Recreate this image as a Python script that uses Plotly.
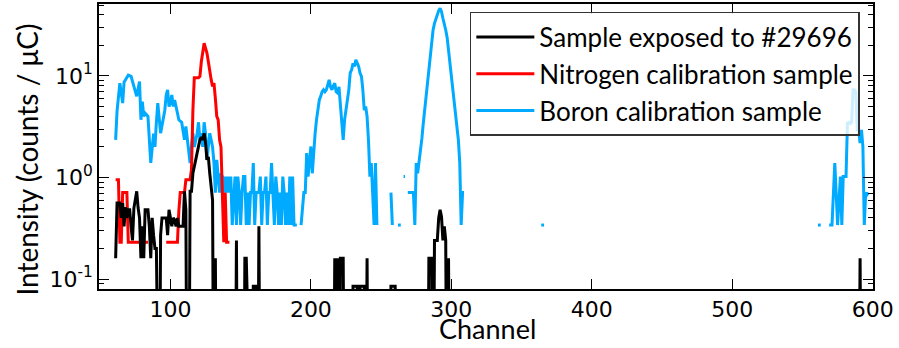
import plotly.graph_objects as go

# ---------------- data (channel, intensity in counts / uC) ----------------
# Sample exposed to #29696 (0 = no counts, drawn below the axis like matplotlib's clip)
sample_ch = [61, 62, 64, 65, 66, 67, 68, 69, 70, 71, 72, 73, 74, 75, 76, 77, 78, 79, 80,
             81, 82, 84, 85, 86, 87, 88, 89, 90, 91, 92, 93, 94, 96, 97, 98, 99, 100,
             101, 102, 103, 104, 105, 106, 107, 108, 109, 110, 111, 112, 113, 114, 115,
             116, 117, 118, 119, 120, 121, 122, 123, 124, 125, 126, 127, 128, 129, 130,
             131, 132, 133, 146, 147, 148, 152, 153, 154, 155, 158, 159, 160, 161, 162,
             163, 164, 215, 216, 217, 218, 219, 220, 221, 222, 223, 224, 229, 230, 231,
             232, 233, 234, 235, 236, 237, 238, 239, 240, 241, 256, 257, 258, 259, 260,
             261, 283, 284, 285, 286, 287, 288, 289, 290, 291, 292, 293, 294, 295, 296,
             297, 298, 299, 590, 591, 592, 597]
sample = [0.16, 0.56, 0.56, 0.40, 0.56, 0.33, 0.51, 0.40, 0.48, 0.48, 0.33, 0.24, 0.50,
          0.60, 0.73, 0.50, 0.40, 0.16, 0.33, 0.16, 0.48, 0.48, 0.33, 0.16, 0.40, 0.27,
          0.20, 0.20, 0, 0, 0.27, 0.40, 0.40, 0.40, 0.27, 0.48, 0.40, 0.33, 0.40, 0.38,
          0.33, 0.40, 0.33, 0.33, 0.33, 0.33, 0.73, 0.48, 0, 0, 0.73, 0.73, 1.1, 1.25,
          1.49, 1.74, 2.0, 2.35, 2.5, 2.35, 2.73, 2.2, 1.49, 1.6, 1.1, 0.8, 0.6, 0, 0.16,
          0, 0, 0.24, 0, 0, 0.16, 0.16, 0, 0, 0.085, 0.085, 0.085, 0, 0.33, 0, 0, 0, 0.16,
          0, 0.16, 0, 0.16, 0.16, 0.16, 0, 0, 0.085, 0.085, 0.085, 0.085, 0, 0.085,
          0.085, 0.085, 0.085, 0, 0.16, 0, 0, 0.085, 0.085, 0.085, 0.085, 0, 0, 0.16,
          0.16, 0.16, 0, 0.24, 0.24, 0.24, 0.40, 0.48, 0.41, 0.24, 0.33, 0.24, 0, 0.16,
          0, 0, 0.16, 0, 0]

# Nitrogen calibration sample (None = gap)
nitrogen_ch = [61, 63, 64, 65, 66, 69, 70, 84, 85, 97, 105, 106, 107, 110, 111, 114, 115,
               116, 117, 120, 121, 122, 123, 124, 125, 126, 127, 128, 129, 130, 131, 132,
               133, 134, 135, 136, 137, 138, 139, 140, 142]
nitrogen = [0.95, 0.95, 0.23, 0.23, 0.71, 0.71, 0.23, 0.23, None, 0.23, 0.23, 0.47, 0.71,
            0.71, 0.95, 0.95, 1.2, 4.6, 9.6, 9.6, 9.9, 13.8, 16.8, 21.0, 18.8, 16.8, 13.8,
            11.0, 9.2, 7.9, 8.5, 6.0, 4.0, 3.7, 2.35, 2.0, 0.71, 0.23, 0.71, 0.23, 0.23]

# Boron calibration sample (None = gap)
boron_ch = [61, 62, 64, 66, 67, 69, 70, 72, 73, 74, 76, 77, 78, 79, 80, 81, 82, 84, 85, 86,
            88, 89, 90, 91, 93, 95, 96, 97, 98, 99, 100, 101, 102, 103, 104, 105, 106, 108,
            109, 110, 111, 112, 113, 114, 115, 116, 117, 118, 119, 120, 121, 122, 123, 124,
            125, 126, 127, 128, 129, 130, 131, 132, 133, 134, 135, 136, 137, 138, 139, 140,
            141, 142, 143, 144, 145, 146, 147, 148, 149, 150, 151, 152, 153, 154, 155, 156,
            157, 158, 159, 160, 161, 162, 163, 164, 165, 166, 167, 168, 169, 170, 171, 172,
            173, 174, 175, 176, 177, 178, 179, 180, 181, 182, 183, 184, 185, 186, 187, 188,
            189, 190, 191, 193, 195, 196, 197, 198, 199, 200, 201, 202, 203, 204, 205, 206,
            207, 208, 209, 210, 211, 212, 213, 214, 215, 216, 217, 218, 219, 220, 221, 222,
            223, 224, 225, 226, 227, 228, 229, 230, 231, 232, 233, 234, 235, 236, 237, 238,
            239, 240, 241, 242, 243, 244, 245, 246, 247, 248, 257, 258, 259, 262, 264, 265,
            266, 267, 268, 269, 271, 273, 274, 275, 276, 277, 278, 279, 280, 281, 282, 283,
            284, 285, 286, 287, 288, 289, 290, 291, 292, 293, 294, 295, 296, 297, 298, 299,
            300, 301, 302, 303, 304, 305, 306, 307, 308, 309, 310, 364, 366, 367, 561, 563,
            564, 569, 571, 573, 575, 577, 578, 579, 580, 581, 582, 583, 584, 585, 586, 587,
            588, 589, 590, 591, 592, 593, 594, 595, 596, 597]
boron = [2.35, 4.5, 8.5, 5.4, 8.7, 9.5, 10.2, 9.9, 8.7, 8.0, 6.3, 7.5, 8.8, 3.7, 5.6, 4.0,
         4.3, 4.0, 2.35, 1.39, 2.7, 2.0, 3.5, 5.4, 2.73, 3.7, 4.6, 6.5, 7.3, 5.0, 5.4, 6.5,
         5.0, 5.8, 5.0, 4.6, 3.7, 3.5, 2.7, 2.35, 3.18, 2.35, 2.0, 1.39, 2.0, 2.73, 2.0,
         2.35, 2.7, 3.5, 2.35, 2.73, 2.0, 3.5, 2.7, 1.49, 2.0, 2.73, 2.35, 2.0, 1.39, 0.71,
         1.49, 1.02, 0.71, 1.1, 1.02, 0.71, 1.02, 0.71, 1.02, 0.71, 1.02, 0.34, 0.71, 1.02,
         0.34, 1.02, 0.71, 0.34, 0.71, 1.02, 1.02, 0.34, 0.71, 0.34, 0.71, 0.71, 1.39, 0.34,
         0.71, 0.71, 0.71, 1.02, 0.34, 0.71, 0.71, 1.02, 0.34, 0.71, 0.71, 1.39, 0.71, 0.34,
         1.02, 0.71, 0.34, 0.71, 0.34, 1.02, 0.71, 0.34, 0.71, 0.34, 1.02, 0.34, 1.02, 0.34,
         0.34, 0.34, None, 0.34, 0.71, 0.71, 1.74, 1.02, 1.39, 2.02, 1.1, 2.0, 2.7, 3.7, 4.6,
         5.8, 6.3, 7.0, 7.3, 7.0, 7.3, 8.0, 9.16, 7.8, 7.3, 8.0, 8.5, 7.0, 6.8, 7.8, 5.0,
         3.18, 2.35, 3.7, 4.6, 5.4, 7.3, 10.7, 11.5, 13.3, 12.4, 14.4, 13.3, 12.4, 10.7, 9.9,
         7.3, 4.6, 5.0, 4.0, 2.35, 1.02, 1.39, 0.68, 0.34, 1.39, 0.34, None, 0.71, 0.34,
         None, 0.34, 0.34, None, 1.02, 1.02, None, 0.71, 0.71, 0.71, 0.34, 1.39, 1.1, 1.39,
         1.7, 2.4, 3.4, 4.6, 7.3, 9.0, 12.4, 15.5, 21.0, 28.4, 33.0, 37.1, 40.0, 44.0, 46.4,
         43.0, 37.0, 33.0, 28.4, 24.0, 18.0, 14.4, 10.7, 7.0, 5.4, 4.0, 3.4, 2.35, 1.39,
         0.34, 0.71, 0.71, None, 0.34, 0.34, None, 0.34, 0.34, None, 0.34, 0.34, 1.39,
         0.34, 1.02, 0.34, 1.02, 1.02, 1.02, 3.43, 3.5, 3.4, 3.5, 7.3, 7.3, 7.0, 2.95, 2.95,
         2.18, 2.95, 2.02, 0.34, 0.71, 0.68, 0.71]

x_ticks = [100, 200, 300, 400, 500, 600]
y_ticks = [0.1, 1, 10]
y_tick_labels = ["10<sup>-1</sup>", "10<sup>0</sup>", "10<sup>1</sup>"]

# ---------------- figure ----------------
FLOOR = 1e-3  # zero counts are drawn far below the axis (clipped), like matplotlib

fig = go.Figure()
fig.add_trace(go.Scatter(x=boron_ch, y=boron, mode="lines", name="Boron calibration sample",
                         line=dict(color="#00AAFF", width=3), legendrank=3,
                         connectgaps=False))
fig.add_trace(go.Scatter(x=nitrogen_ch, y=nitrogen, mode="lines", name="Nitrogen calibration sample",
                         line=dict(color="#FF0000", width=3), legendrank=2,
                         connectgaps=False))
fig.add_trace(go.Scatter(x=sample_ch, y=[v if v > 0 else FLOOR for v in sample], mode="lines",
                         name="Sample exposed to #29696",
                         line=dict(color="#000000", width=3), legendrank=1))

minor_vals = [m * 10 ** e for e in (-2, -1, 0, 1) for m in range(2, 10)]

fig.update_layout(
    width=899, height=348,
    margin=dict(l=99, r=26, t=4, b=59, autoexpand=False),
    paper_bgcolor="white", plot_bgcolor="white",
    showlegend=True,
    legend=dict(x=0.983, y=0.972, xanchor="right", yanchor="top",
                bgcolor="rgba(255,255,255,0.8)", bordercolor="#333333", borderwidth=1.5,
                font=dict(family="Lato", size=26, color="black"),
                itemwidth=58),
    annotations=[
        dict(text="Intensity (counts / μC)", xref="paper", yref="paper",
             x=-0.0934, y=0.453, xanchor="center", yanchor="middle", textangle=-90,
             showarrow=False, font=dict(family="Lato", size=28, color="black")),
        dict(text="Channel", xref="paper", yref="paper",
             x=0.5024, y=-0.2022, xanchor="center", yanchor="bottom",
             showarrow=False, font=dict(family="Lato", size=27, color="black")),
    ],
)
fig.update_xaxes(
    range=[49.15, 600.2], showgrid=False, zeroline=False, automargin=False,
    tickmode="array", tickvals=x_ticks,
    ticks="inside", ticklen=10, tickwidth=1, tickcolor="black",
    showline=True, linecolor="black", linewidth=1.5, mirror="allticks",
    tickfont=dict(family="DejaVu Sans", size=22, color="black"),
)
fig.update_yaxes(
    type="log", range=[-1.0985, 1.709], showgrid=False, zeroline=False, automargin=False,
    tickmode="array", tickvals=y_ticks, ticktext=y_tick_labels,
    ticks="inside", ticklen=10, tickwidth=1, tickcolor="black",
    minor=dict(tickmode="array", tickvals=minor_vals, ticks="inside", ticklen=5,
               tickwidth=1, tickcolor="black", showgrid=False),
    showline=True, linecolor="black", linewidth=1.5, mirror="allticks",
    tickfont=dict(family="DejaVu Sans", size=22, color="black"),
)

fig.write_html("out.html")
